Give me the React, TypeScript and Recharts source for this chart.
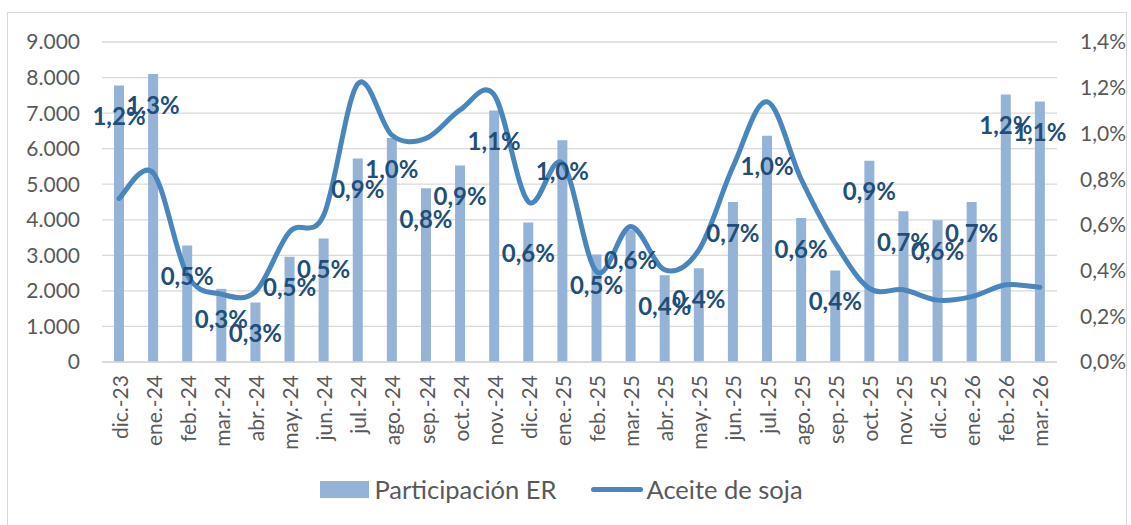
import React from 'react';
import { ComposedChart, Bar, Line, XAxis, YAxis, CartesianGrid, Legend, LabelList } from 'recharts';

const months = ['dic.-23','ene.-24','feb.-24','mar.-24','abr.-24','may.-24','jun.-24','jul.-24','ago.-24','sep.-24','oct.-24','nov.-24','dic.-24','ene.-25','feb.-25','mar.-25','abr.-25','may.-25','jun.-25','jul.-25','ago.-25','sep.-25','oct.-25','nov.-25','dic.-25','ene.-26','feb.-26','mar.-26'];
const participacionER = [1.21,1.26,0.51,0.32,0.26,0.46,0.54,0.89,0.98,0.76,0.86,1.10,0.61,0.97,0.47,0.58,0.38,0.41,0.70,0.99,0.63,0.40,0.88,0.66,0.62,0.70,1.17,1.14];
const aceiteDeSoja = [4600,5320,2450,1910,1980,3660,4130,7820,6380,6290,7090,7510,4510,5590,2540,3810,2590,3150,5490,7320,5140,3340,2070,2030,1740,1840,2170,2100];
const leftTicks = [0,1000,2000,3000,4000,5000,6000,7000,8000,9000];
const rightTicks = [0,0.2,0.4,0.6,0.8,1.0,1.2,1.4];

const data = months.map((m, i) => ({ month: m, er: participacionER[i], soja: aceiteDeSoja[i] }));

const BAR_COLOR = '#95B3D7';
const LINE_COLOR = '#4A86BE';
const LABEL_COLOR = '#1F4E79';
const TEXT_COLOR = '#595959';
const FONT = 'Lato, "Open Sans", sans-serif';

// Excel-like smoothed line (Catmull-Rom via cubic Bezier)
const excelCurve: any = (context: any) => {
  let pts: number[][] = [];
  return {
    areaStart() {},
    areaEnd() {},
    lineStart() { pts = []; },
    point(x: number, y: number) { pts.push([+x, +y]); },
    lineEnd() {
      const n = pts.length;
      if (!n) return;
      context.moveTo(pts[0][0], pts[0][1]);
      for (let i = 0; i < n - 1; i++) {
        const p0 = pts[i - 1] || pts[i];
        const p1 = pts[i];
        const p2 = pts[i + 1];
        const p3 = pts[i + 2] || p2;
        context.bezierCurveTo(
          p1[0] + (p2[0] - p0[0]) / 6, p1[1] + (p2[1] - p0[1]) / 6,
          p2[0] - (p3[0] - p1[0]) / 6, p2[1] - (p3[1] - p1[1]) / 6,
          p2[0], p2[1]
        );
      }
    },
  };
};

const fmtThousands = (v: number) => v.toLocaleString('de-DE');
const fmtPct = (v: number) => v.toFixed(1).replace('.', ',') + '%';

const BarLabel = (props: any) => {
  const vb = props.viewBox || {};
  const x = (props.x ?? vb.x) + (props.width ?? vb.width) / 2;
  const y = (props.y ?? vb.y) + 30;
  return (
    <text x={x} y={y} textAnchor="middle" dominantBaseline="central" fill={LABEL_COLOR}
      style={{ fontFamily: FONT, fontWeight: 700, fontSize: 24 }}>
      {fmtPct(Number(props.value))}
    </text>
  );
};

const XTick = (props: any) => {
  const { x, y, payload } = props;
  return (
    <text x={x} y={y} transform={`rotate(-90, ${x}, ${y})`} textAnchor="end" dominantBaseline="central"
      fill={TEXT_COLOR} style={{ fontFamily: FONT, fontSize: 21 }}>
      {payload.value}
    </text>
  );
};

const LegendContent = () => (
  <div style={{ height: 30, display: 'flex', alignItems: 'center', justifyContent: 'center', fontFamily: FONT, fontSize: 25.5, color: TEXT_COLOR, paddingRight: 8 }}>
    <span style={{ display: 'inline-block', width: 49, height: 17, background: BAR_COLOR, marginRight: 5 }} />
    <span>Participación ER</span>
    <span style={{ display: 'inline-block', width: 52, height: 5, borderRadius: 3, background: LINE_COLOR, marginLeft: 35, marginRight: 3 }} />
    <span>Aceite de soja</span>
  </div>
);

export default function App() {
  return (
    <div style={{ position: 'absolute', left: 0, top: 0, width: 1131, height: 525, overflow: 'hidden', background: '#fff' }}>
      <div style={{ position: 'absolute', left: 7, top: 12, width: 1120, height: 540, border: '1px solid #d9d9d9', boxSizing: 'border-box' }} />
      <div style={{ position: 'absolute', left: 0, top: 0 }}>
        <ComposedChart width={1131} height={525} data={data} margin={{ top: 42, right: 0, left: 0, bottom: 21 }}>
          <CartesianGrid yAxisId="left" vertical={false} stroke="#d9d9d9" strokeWidth={1.3} />
          <XAxis dataKey="month" interval={0} height={112} tickSize={0} tickMargin={13} tickLine={false}
            axisLine={{ stroke: '#d9d9d9', strokeWidth: 1.3 }} tick={<XTick />} />
          <YAxis yAxisId="left" orientation="left" width={102} domain={[0, 9000]} ticks={leftTicks}
            tickFormatter={fmtThousands} axisLine={false} tickLine={false} tickSize={0} tickMargin={22}
            tick={{ fill: TEXT_COLOR, fontSize: 21, fontFamily: FONT }} />
          <YAxis yAxisId="right" orientation="right" width={74} domain={[0, 1.4]} ticks={rightTicks}
            tickFormatter={fmtPct} axisLine={false} tickLine={false} tickSize={0} tickMargin={23}
            tick={{ fill: TEXT_COLOR, fontSize: 21, fontFamily: FONT, textAnchor: 'start' }} />
          <Bar yAxisId="right" dataKey="er" name="Participación ER" fill={BAR_COLOR} barSize={10} isAnimationActive={false}>
            <LabelList dataKey="er" content={<BarLabel />} />
          </Bar>
          <Line yAxisId="left" dataKey="soja" name="Aceite de soja" type={excelCurve} stroke={LINE_COLOR} strokeWidth={5}
            dot={false} activeDot={false} strokeLinecap="round" isAnimationActive={false} />
          <Legend verticalAlign="bottom" align="center" content={<LegendContent />} />
        </ComposedChart>
      </div>
    </div>
  );
}
